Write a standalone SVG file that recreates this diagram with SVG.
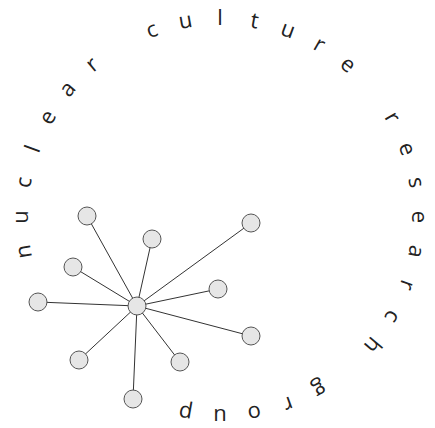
<svg xmlns="http://www.w3.org/2000/svg" width="435" height="428" viewBox="0 0 435 428">
<style>
.ch{font-family:"Open Sans","DejaVu Sans",sans-serif;font-size:22px;fill:#222;text-anchor:middle}
.nd{fill:#e6e6e6;stroke:#555;stroke-width:1}
.ln{stroke:#333;stroke-width:1;fill:none}
</style>
<rect width="435" height="428" fill="#fff"/>
<g id="title">
<text class="ch" x="220" y="25" transform="rotate(-100 220 217)">n</text>
<text class="ch" x="220" y="25" transform="rotate(-90 220 217)">u</text>
<text class="ch" x="220" y="25" transform="rotate(-80 220 217)">c</text>
<text class="ch" x="220" y="25" transform="rotate(-70 220 217)">l</text>
<text class="ch" x="220" y="25" transform="rotate(-60 220 217)">e</text>
<text class="ch" x="220" y="25" transform="rotate(-50 220 217)">a</text>
<text class="ch" x="220" y="25" transform="rotate(-40 220 217)">r</text>
<text class="ch" x="220" y="25" transform="rotate(-20 220 217)">c</text>
<text class="ch" x="220" y="25" transform="rotate(-10 220 217)">u</text>
<text class="ch" x="220" y="25" transform="rotate(0 220 217)">l</text>
<text class="ch" x="220" y="25" transform="rotate(10 220 217)">t</text>
<text class="ch" x="220" y="25" transform="rotate(20 220 217)">u</text>
<text class="ch" x="220" y="25" transform="rotate(30 220 217)">r</text>
<text class="ch" x="220" y="25" transform="rotate(40 220 217)">e</text>
<text class="ch" x="220" y="25" transform="rotate(60 220 217)">r</text>
<text class="ch" x="220" y="25" transform="rotate(70 220 217)">e</text>
<text class="ch" x="220" y="25" transform="rotate(80 220 217)">s</text>
<text class="ch" x="220" y="25" transform="rotate(90 220 217)">e</text>
<text class="ch" x="220" y="25" transform="rotate(100 220 217)">a</text>
<text class="ch" x="220" y="25" transform="rotate(110 220 217)">r</text>
<text class="ch" x="220" y="25" transform="rotate(120 220 217)">c</text>
<text class="ch" x="220" y="25" transform="rotate(130 220 217)">h</text>
<text class="ch" x="220" y="25" transform="rotate(150 220 217)">g</text>
<text class="ch" x="220" y="25" transform="rotate(160 220 217)">r</text>
<text class="ch" x="220" y="25" transform="rotate(170 220 217)">o</text>
<text class="ch" x="220" y="25" transform="rotate(180 220 217)">u</text>
<text class="ch" x="220" y="25" transform="rotate(190 220 217)">p</text>
</g>
<g id="connectors">
<line class="ln" x1="137" y1="306" x2="87" y2="216"/>
<line class="ln" x1="137" y1="306" x2="152" y2="239"/>
<line class="ln" x1="137" y1="306" x2="73" y2="267"/>
<line class="ln" x1="137" y1="306" x2="38" y2="302"/>
<line class="ln" x1="137" y1="306" x2="251" y2="223"/>
<line class="ln" x1="137" y1="306" x2="218" y2="289"/>
<line class="ln" x1="137" y1="306" x2="251" y2="336"/>
<line class="ln" x1="137" y1="306" x2="79" y2="360"/>
<line class="ln" x1="137" y1="306" x2="180" y2="362"/>
<line class="ln" x1="137" y1="306" x2="133" y2="399"/>
</g>
<g id="hub"><circle class="nd" cx="137" cy="306" r="9"/></g>
<g id="n1"><circle class="nd" cx="87" cy="216" r="9"/></g>
<g id="n2"><circle class="nd" cx="152" cy="239" r="9"/></g>
<g id="n3"><circle class="nd" cx="73" cy="267" r="9"/></g>
<g id="n4"><circle class="nd" cx="38" cy="302" r="9"/></g>
<g id="n5"><circle class="nd" cx="251" cy="223" r="9"/></g>
<g id="n6"><circle class="nd" cx="218" cy="289" r="9"/></g>
<g id="n7"><circle class="nd" cx="251" cy="336" r="9"/></g>
<g id="n8"><circle class="nd" cx="79" cy="360" r="9"/></g>
<g id="n9"><circle class="nd" cx="180" cy="362" r="9"/></g>
<g id="n10"><circle class="nd" cx="133" cy="399" r="9"/></g>
</svg>
